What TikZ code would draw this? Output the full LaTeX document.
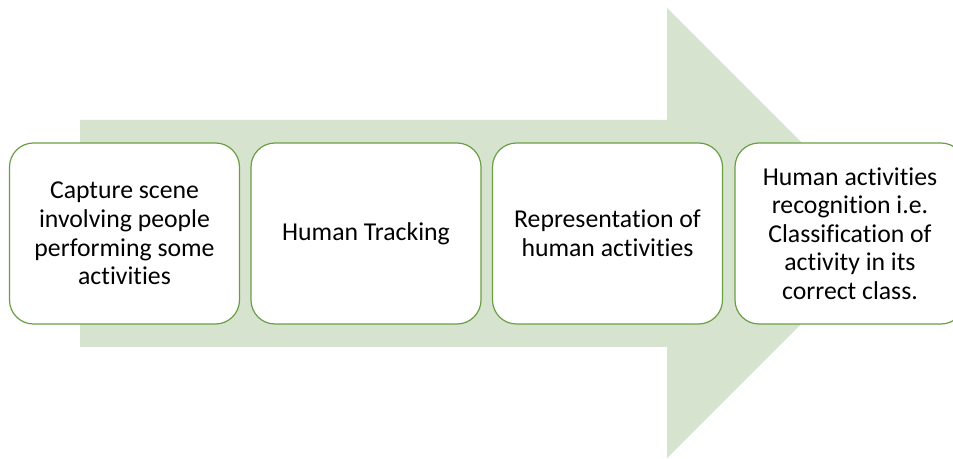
\documentclass[tikz,border=0pt]{standalone}
\usepackage{fontspec}
\setmainfont[Ligatures=NoCommon]{Carlito}
\usetikzlibrary{positioning}

\definecolor{arrowfill}{HTML}{D6E3CF}
\definecolor{boxline}{HTML}{6A9F45}

\tikzset{
	stage/.style={draw=boxline, line width=0.9pt, fill=white, rounded corners=18pt,
		minimum width=172.5pt, minimum height=135.75pt, align=center,
		font=\fontsize{19.3pt}{21.4pt}\selectfont, text=black}
}

\begin{document}
\begin{tikzpicture}[x=0.75pt, y=-0.75pt]

				% Frame
				\clip (0,0) rectangle (953,459);
				\fill[white] (0,0) rectangle (953,459);

				% Big background arrow
				\fill[arrowfill]
				(80,120) --
				(667,120) --
				(667,8) --
				(892,233) --
				(667,458) --
				(667,347) --
				(80,347) --
				cycle;

				% Stages
				\node[stage] (capture) at (124.5,233.5) {Capture scene\\involving people\\performing some\\activities};
				\node[stage] (tracking) at (366,233.5) {Human Tracking};
				\node[stage] (represent) at (607.5,233.5) {Representation of\\human activities};
				\node[stage] (recognize) at (850,233.5) {Human activities\\recognition i.e.\\Classification of\\activity in its\\correct class.};

			\end{tikzpicture}
\end{document}
